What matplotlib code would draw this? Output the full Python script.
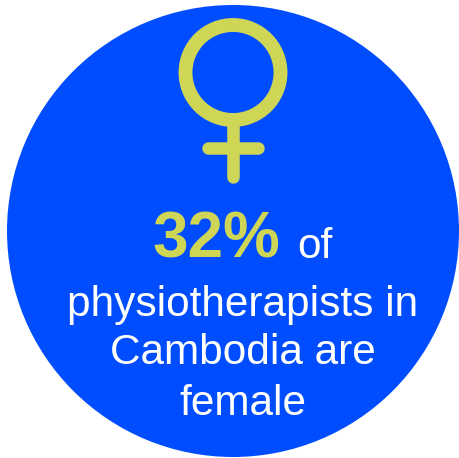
import matplotlib.pyplot as plt
from matplotlib.patches import Circle

plt.rcParams["font.family"] = ["Liberation Sans", "DejaVu Sans"]

# Values shown on the chart
percent_female = 32
headline = f"{percent_female}%"
headline_suffix = "of"
caption_lines = ["physiotherapists in", "Cambodia are", "female"]

BLUE = "#004DFF"
LIME = "#CFD656"

W, H = 459, 458
fig = plt.figure(figsize=(W / 100, H / 100), dpi=100)
ax = fig.add_axes([0, 0, 1, 1])
ax.set_xlim(0, W)
ax.set_ylim(H, 0)
ax.axis("off")

# Background disc
ax.add_patch(Circle((233, 231), 226, color=BLUE, lw=0))

# Venus symbol
ax.add_patch(Circle((233, 72.5), 47.5, fill=False, ec=LIME, lw=10))
ax.plot([233, 233], [125, 177], color=LIME, lw=9, solid_capstyle="round")
ax.plot([208, 258], [148, 148], color=LIME, lw=9, solid_capstyle="round")

# Headline
ax.text(152, 257, headline, color=LIME, fontsize=46, fontweight="bold", ha="left", va="baseline")
ax.text(297, 258, headline_suffix, color="white", fontsize=30.5, ha="left", va="baseline")

# Caption
for y, line in zip([316, 364.5, 415], caption_lines):
    ax.text(243, y, line, color="white", fontsize=30.5, ha="center", va="baseline")

fig.savefig("out.png", dpi=100)
